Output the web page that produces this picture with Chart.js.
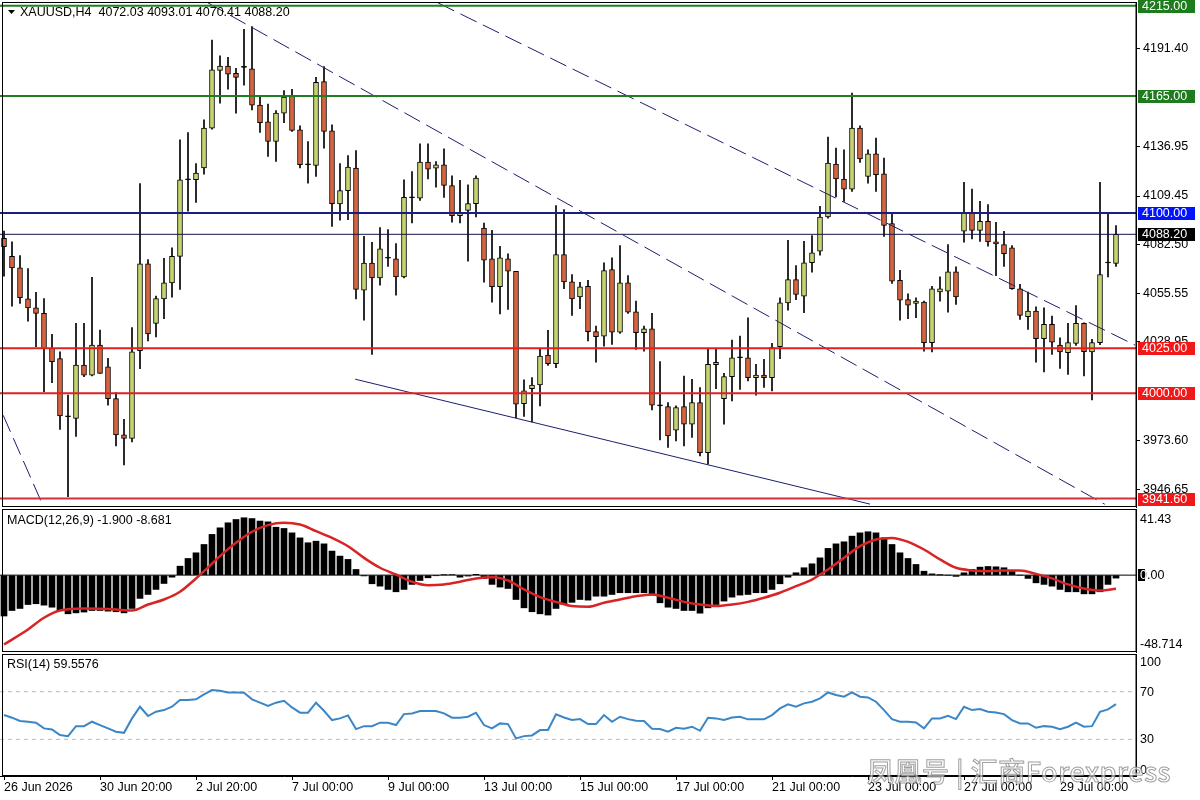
<!DOCTYPE html>
<html>
<head>
<meta charset="utf-8">
<script src="https://cdn.jsdelivr.net/npm/chart.js@4.4.0/dist/chart.umd.min.js"></script>
<style>
  html, body { margin: 0; padding: 0; background: #fff; width: 1200px; height: 800px; overflow: hidden; }
  .pane { position: absolute; left: 0; width: 1200px; }
  #mainPane { top: 0; height: 508px; }
  #macdPane { top: 508px; height: 146px; }
  #rsiPane { top: 654px; height: 146px; }
  #mark {
    position: absolute; left: 867px; top: 751px; white-space: nowrap;
    font: 500 27px "Noto Sans CJK SC", sans-serif; letter-spacing: 0.5px;
    color: rgba(255, 255, 255, 0.6); -webkit-text-stroke: 1px rgba(120, 120, 120, 0.7);
  }
</style>
</head>
<body>
<div class="pane" id="mainPane"><canvas id="mainChart"></canvas></div>
<div class="pane" id="macdPane"><canvas id="macdChart"></canvas></div>
<div class="pane" id="rsiPane"><canvas id="rsiChart"></canvas></div>
<div id="mark">凤凰号 | 汇商Forexpress</div>
<script>
// --- XAUUSD H4 candles, one entry per bar ---
const opens = [
  4086, 4076, 4069.6, 4052.4, 4047.4, 4044.3, 4025, 4019.2, 3987, 3986,
  4015.7, 4010, 4026.7, 4014.7, 3997, 3976.9, 3974.9, 4023.6, 4071.8, 4038.8,
  4052.4, 4061.3, 4076, 4118.5, 4118.5, 4125, 4147.1, 4179.2, 4181.6, 4177.5,
  4180.8, 4180, 4159.9, 4150.6, 4139.7, 4155.4, 4165, 4146.2, 4126.8, 4126.4,
  4172.9, 4145.6, 4105, 4112.4, 4124.9, 4057.2, 4072.3, 4064, 4074.9, 4074.6,
  4064.6, 4108.5, 4108.3, 4128.3, 4124.9, 4126.8, 4115.2, 4098.6, 4101.5, 4105.2,
  4091.7, 4074.6, 4059.1, 4074.6, 4067.7, 3994.3, 4002.6, 4004.6, 4021.2, 4016.4,
  4077, 4061.8, 4053.5, 4059.4, 4034.2, 4031.7, 4068.7, 4033.9, 4061.3, 4045.2,
  4033.6, 4035.8, 3993, 3992.6, 3979.5, 3992.6, 3982.8, 3994.8, 3967.1, 4015.9,
  3997, 4009.2, 4019.7, 4019.7, 4008.6, 4010.1, 4008.6, 4025.9, 4050.2, 4063.1,
  4053.9, 4072.4, 4078.8, 4097.8, 4127.2, 4118.9, 4113.3, 4147.1, 4120.3, 4132.9,
  4121.8, 4094.1, 4062.6, 4052, 4049.8, 4050.6, 4028.1, 4056.3, 4056.6, 4067.4,
  4089.9, 4100.4, 4090.4, 4095.4, 4084, 4082.5, 4080.7, 4058, 4042.5, 4045.6,
  4030.3, 4038.2, 4026.7, 4022.5, 4027.7, 4038.8, 4022.9, 4028.1, 4072.3, 4072.03
];
const highs = [
  4090, 4084, 4076.4, 4069.2, 4056, 4052.6, 4032.7, 4023, 3999, 4038.8,
  4038.8, 4064.4, 4035, 4019.4, 4000.4, 3985.6, 4036.4, 4116.3, 4074.2, 4053.9,
  4074.9, 4080.7, 4140.6, 4144.7, 4127.4, 4151.7, 4196, 4187.2, 4186.4, 4180.3,
  4202, 4203.5, 4164.6, 4160.4, 4156.9, 4168, 4168.7, 4148.4, 4139.7, 4175.3,
  4181.3, 4149, 4127.4, 4131.9, 4134.7, 4087.1, 4083.8, 4092, 4090.8, 4083,
  4118.5, 4123, 4138.4, 4138.4, 4128.6, 4135.6, 4120.7, 4118.1, 4115.7, 4120.7,
  4094.5, 4090.4, 4081.6, 4077.4, 4067.7, 4007.4, 4008.7, 4024.4, 4034.9, 4104.1,
  4101.9, 4065.9, 4061.6, 4062.7, 4037.3, 4072.4, 4075.1, 4082, 4065.3, 4051.1,
  4037.3, 4044.3, 4017.6, 3994.8, 3993, 4009.6, 4007.8, 4003.2, 4024.4, 4024.4,
  4011, 4029.5, 4031.7, 4041.9, 4016.1, 4018.8, 4027.7, 4053, 4084.9, 4070.9,
  4084.3, 4087.5, 4103.7, 4142.1, 4136, 4135.1, 4166.5, 4148.4, 4135.1, 4141.6,
  4130.5, 4100.4, 4068.2, 4055.2, 4052.9, 4051.1, 4059.4, 4064.6, 4082.5, 4070.2,
  4117, 4113.3, 4106.5, 4104.7, 4094.8, 4089.8, 4081.9, 4060.4, 4056.1, 4048,
  4047.4, 4042.8, 4030.8, 4038.8, 4048.7, 4039.1, 4029.9, 4117, 4100.4, 4093.01
];
const lows = [
  4065, 4048.3, 4049.8, 4040, 4025.8, 4000.9, 4005.9, 3980, 3942.6, 3976,
  4009.2, 4009.6, 4011, 3993.4, 3970.8, 3960.3, 3973, 4013.7, 4029, 4031.2,
  4041.4, 4053.3, 4057.6, 4101, 4105.9, 4121.6, 4146.5, 4161, 4168.7, 4155.4,
  4171, 4157.2, 4144.7, 4131.4, 4128.6, 4150.2, 4145.3, 4125, 4116.6, 4120.3,
  4136, 4092.6, 4096, 4096.3, 4052.4, 4040.6, 4021.6, 4060, 4070.4, 4054.4,
  4064, 4094.5, 4107, 4118.9, 4114.4, 4108.7, 4094.9, 4094.5, 4073.3, 4097.8,
  4061.6, 4050.6, 4044.1, 4046.5, 3986.5, 3987.1, 3984.1, 3993, 4015.5, 4014.2,
  4058, 4043.2, 4046.9, 4029, 4017.3, 4026.2, 4027.1, 4033.2, 4044.3, 4024.4,
  4023.4, 3990.8, 3974.1, 3969.9, 3973.6, 3970.8, 3975.5, 3965.3, 3960.7, 4002.6,
  3982.8, 3995.7, 4002.2, 4006.8, 3998.9, 4003.2, 4001.3, 4019.2, 4046.1, 4052,
  4044.7, 4067.2, 4076.6, 4097.2, 4108.9, 4106.5, 4112, 4128.1, 4116.6, 4112,
  4087.1, 4060.9, 4040.6, 4041.4, 4041.9, 4023.4, 4022.9, 4051.1, 4045, 4049.3,
  4083.8, 4085.7, 4084.3, 4081.6, 4065.3, 4070.4, 4057.6, 4041, 4035.4, 4017.3,
  4011.8, 4021.6, 4013.8, 4010.5, 4026.6, 4009.6, 3996.3, 4027, 4064.6, 4070.41
];
const closes = [
  4081.4, 4069.6, 4053, 4047.4, 4044.3, 4024.7, 4017.5, 3987.4, 3987, 4015.7,
  4010, 4026.7, 4011, 3997, 3976.9, 3974.9, 4023, 4071.8, 4033, 4052.6,
  4061.3, 4076, 4118.5, 4118.5, 4122.2, 4147.1, 4179.4, 4181.6, 4177, 4175.3,
  4180.8, 4159.9, 4150.2, 4139.7, 4155.4, 4164.3, 4145.8, 4126.8, 4126.8, 4172.5,
  4145.3, 4105.2, 4112.4, 4125.5, 4057.6, 4072.3, 4064, 4080.1, 4074.9, 4064.6,
  4108.7, 4108.5, 4128.3, 4124.4, 4126.8, 4115.3, 4098.6, 4100.4, 4105.2, 4119.4,
  4073.8, 4059.1, 4075.1, 4067.7, 3993.9, 4001.3, 4004.6, 4020.7, 4016.4, 4077,
  4061.8, 4052.4, 4059.1, 4034.2, 4031.4, 4068.1, 4033.9, 4061.3, 4045, 4033.6,
  4035.8, 3993.4, 3993, 3976.4, 3992.1, 3982.8, 3994.8, 3967.1, 4016.1, 4017.2,
  4009.2, 4019.7, 4019.7, 4008.6, 4010.1, 4008.6, 4025.3, 4050.2, 4063.1, 4054.8,
  4072.4, 4077.9, 4097.8, 4127.7, 4118.9, 4113.3, 4147.1, 4130, 4132.9, 4121.3,
  4093.2, 4062.2, 4051.7, 4048.9, 4051.1, 4028.1, 4058, 4058, 4067.4, 4053.5,
  4100.4, 4090.4, 4095.4, 4084, 4082.9, 4077.4, 4058, 4043.2, 4045.6, 4030.3,
  4038.2, 4028.4, 4022.9, 4028.1, 4038.8, 4023.1, 4028.1, 4065.9, 4072.3, 4088.2
];

// --- MACD(12,26,9): histogram per bar, signal read at the marked bars ---
const macdHist = [
  -26, -22.5, -21.2, -18.7, -18.2, -19.1, -20.4, -22.5, -24.6, -24,
  -23.5, -22.5, -22.5, -22.9, -23.3, -24, -21.2, -14.8, -12.3, -9.1,
  -5.3, -1.3, 5.7, 10.6, 14.2, 19.5, 25.9, 30.1, 33.3, 35.4,
  36.5, 36, 34.4, 33.9, 30.5, 29.7, 26.9, 23.7, 20.6, 21.6,
  19.9, 15.3, 12.1, 10, 3.6, -0.5, -5.5, -7, -9.1, -10.6,
  -9.1, -5.9, -3.4, -1.7, -0.4, 0.2, 0.3, -1.3, -0.6, 0.5,
  -2.1, -5.9, -7.6, -8.5, -15.5, -20.8, -23.3, -24.6, -25.4, -21.2,
  -18.7, -17.3, -15.5, -15.9, -13.4, -13.4, -12.3, -11.2, -11.2, -11.2,
  -11.2, -12.7, -17.6, -20.4, -21.2, -22.5, -22.5, -24.2, -20.8, -18.7,
  -16.5, -14, -12.7, -12.3, -11.2, -11.2, -9.1, -5.5, -1.3, 1.5,
  4.7, 7.2, 11, 17, 19.9, 21.2, 24.8, 26.9, 27.6, 26.9,
  23.7, 19.5, 14.2, 10.6, 6.8, 2.5, 0.8, 0.1, 0, -0.8,
  1.5, 3.6, 5.1, 5.5, 5.3, 4.7, 2.5, 0, -2.1, -4.9,
  -5.9, -7, -9.1, -10.6, -10.6, -11.9, -11.9, -10.6, -5.9, -1.9
];
const signalBars = [0, 3, 5, 7, 10, 14, 16, 18, 20, 22, 24, 25, 27, 29, 31, 33, 35, 37, 39, 41,
  43, 45, 47, 49, 51, 53, 55, 57, 59, 61, 63, 65, 67, 69, 71, 73, 75, 77, 79, 81,
  83, 85, 87, 89, 91, 93, 95, 97, 99, 101, 103, 105, 107, 109, 111, 113, 115, 117, 119, 121,
  123, 125, 127, 129, 131, 133, 135, 137, 139];
const signalValues = [-44.1, -34.6, -27.1, -22.5, -21.2, -21.8, -22.5, -18.7, -15.5, -10.6, -2.1, 2.5, 12.1, 20.6, 27.6, 31.8, 33.3, 32.2, 28, 23.7,
  18.4, 11, 4.7, 0.4, -4.2, -6.4, -5.9, -4.2, -2.1, -1.3, -3.4, -9.1, -14, -17, -19.7, -20.1, -17.6, -15.5, -13.4, -12.3,
  -14.4, -17, -18.7, -19.7, -18.7, -17, -14.4, -11.2, -7, -2.8, 3.6, 11, 18.4, 22.7, 23.7, 21.2, 16.3, 10, 4.7, 3,
  2.5, 3, 3, 0.8, -2.1, -5.9, -8.5, -9.8, -8.681];

// --- RSI(14) per bar ---
const rsi = [
  50.4, 48.2, 45.4, 44.8, 44, 39.2, 38.3, 33.6, 32.7, 41.1,
  41.1, 44.8, 42, 39.2, 36.4, 35.5, 47.6, 57.4, 49.6, 53.2,
  54.6, 57.4, 63, 63, 63.6, 67.8, 71.4, 70.8, 69.4, 69.4,
  69.2, 63.6, 60.8, 58, 60.8, 62.4, 56.8, 52.4, 52.4, 60.8,
  54, 46.2, 47.6, 50.1, 38.6, 41.1, 41.1, 44, 44, 42,
  51.2, 51.8, 53.8, 53.8, 53.8, 51.8, 48.2, 48.2, 49, 52.4,
  42, 39.2, 43.4, 42.8, 30.8, 32.7, 33.3, 37.8, 37.8, 51,
  48.4, 46.2, 47, 42.8, 42.8, 50.4, 44.8, 49, 47, 45.6,
  45.4, 38.9, 38.6, 36.4, 39.7, 38.9, 40.6, 37.2, 48.2, 47.6,
  46.2, 48.4, 49, 46.8, 46.8, 46.8, 50.4, 56, 59.4, 57.4,
  60.2, 61.6, 64.4, 69.4, 67.2, 65.8, 69.4, 65.8, 65.2, 61.6,
  54.6, 47, 44.8, 44.8, 44.2, 39.2, 47.6, 47.6, 49.8, 47,
  57.4, 54.6, 55.4, 53.2, 52.6, 51.2, 46.2, 43.4, 43.4, 39.7,
  41.1, 40.6, 38.6, 40.6, 44, 40.6, 41.1, 53.2, 55.2, 59.5576
];
const rsiLevels = [70, 30];

// --- axes ---
const timeTickBars = [0, 12, 24, 36, 48, 60, 72, 84, 96, 108, 120, 132];
const timeTickLabels = ['26 Jun 2026', '30 Jun 20:00', '2 Jul 20:00', '7 Jul 00:00', '9 Jul 00:00', '13 Jul 00:00',
  '15 Jul 00:00', '17 Jul 00:00', '21 Jul 00:00', '23 Jul 00:00', '27 Jul 00:00', '29 Jul 00:00'];
const priceTicks = [4191.40, 4136.95, 4109.45, 4082.50, 4055.55, 4028.95, 3973.60, 3946.65];

// --- drawn objects: horizontal levels and trendlines (bar index, price) ---
const levelValues = [4215, 4165, 4100, 4088.2, 4025, 4000, 3941.6];
const levelColors = ['#1f7f1f', '#1f7f1f', '#1c1c86', '#15154a', '#e02020', '#e02020', '#d0303a'];
const levelWidths = [2, 2, 2, 1, 2, 2, 2];
const levelTagColors = ['#1e7b1e', '#1e7b1e', '#0014ff', '#000000', '#f01818', '#f01818', '#f01818'];
const trendStart = [[25.5, 4216.6], [54.25, 4216.6], [-0.1, 3987.8], [43.9, 4007.8]];
const trendEnd = [[137.6, 3938.4], [141.4, 4026.7], [4.9, 3937.4], [108.25, 3938.5]];
const trendDashed = [true, true, true, false];

const BULL = '#c6d46e', BEAR = '#da633b';
const FONT = '12.5px "Liberation Sans", Arial, sans-serif';
const X_MIN = -0.5, X_MAX = 141.5;

Chart.defaults.font.family = '"Liberation Sans", Arial, sans-serif';
Chart.defaults.font.size = 12.5;
Chart.defaults.color = '#000';
Chart.defaults.animation = false;

const bodyColors = opens.map((o, i) => closes[i] > o ? BULL : (closes[i] < o ? BEAR : '#000'));

function lineSet(points, color, width, dash) {
  return {
    type: 'line', data: points, borderColor: color, borderWidth: width, borderDash: dash || [],
    pointRadius: 0, fill: false, tension: 0, order: -1
  };
}

function fixRightAxis(s) { s.width = 64; s.paddingTop = 0; s.paddingBottom = 0; }

function frame(ctx, a) {
  ctx.strokeStyle = '#000';
  ctx.lineWidth = 1;
  ctx.strokeRect(2.5, a.top + 0.5, a.right - 2.5, a.bottom - a.top - 1);
}

const hiddenX = { type: 'linear', min: X_MIN, max: X_MAX, offset: false, display: false };
const commonPlugins = { legend: { display: false }, tooltip: { enabled: false } };

// ---------- main price panel ----------
const mainDecor = {
  id: 'mainDecor',
  afterDraw(chart) {
    const { ctx, chartArea: a, scales: { y } } = chart;
    ctx.save();
    frame(ctx, a);
    ctx.font = FONT;
    ctx.textBaseline = 'middle';
    levelValues.forEach((v, k) => {
      const py = Math.round(y.getPixelForValue(v));
      ctx.fillStyle = levelTagColors[k];
      ctx.fillRect(a.right + 2, py - 6, 57, 13);
      ctx.fillStyle = '#fff';
      ctx.fillText(v.toFixed(2), a.right + 6, py + 0.5);
    });
    ctx.fillStyle = '#000';
    ctx.beginPath();
    ctx.moveTo(8, 10); ctx.lineTo(15, 10); ctx.lineTo(11.5, 14); ctx.closePath();
    ctx.fill();
    ctx.fillText('XAUUSD,H4  ' + [opens[139], highs[139], lows[139], closes[139]].map(v => v.toFixed(2)).join(' '), 20, 13);
    ctx.restore();
  }
};

const mainSets = [
  {
    label: 'body', data: opens.map((o, i) => ({ x: i, y: [o, closes[i]] })),
    backgroundColor: bodyColors, borderColor: '#000', borderWidth: 1, borderSkipped: false,
    barThickness: 5, minBarLength: 1, grouped: false
  },
  {
    label: 'wick', data: highs.map((h, i) => ({ x: i, y: [lows[i], h] })),
    backgroundColor: '#000', barThickness: 1, grouped: false
  }
];
levelValues.forEach((v, k) => {
  mainSets.push(lineSet([{ x: X_MIN, y: v }, { x: X_MAX, y: v }], levelColors[k], levelWidths[k]));
});
trendStart.forEach((p, k) => {
  const q = trendEnd[k];
  mainSets.push(lineSet([{ x: p[0], y: p[1] }, { x: q[0], y: q[1] }], '#1a1f6e', 1, trendDashed[k] ? [18, 7] : []));
});

new Chart(document.getElementById('mainChart'), {
  type: 'bar',
  data: { datasets: mainSets },
  options: {
    responsive: true, maintainAspectRatio: false, events: [],
    layout: { padding: { top: 2, bottom: 1, left: 0, right: 0 } },
    plugins: commonPlugins,
    scales: {
      x: hiddenX,
      y: {
        position: 'right', min: 3936.9, max: 4217.1,
        afterBuildTicks: s => { s.ticks = priceTicks.map(v => ({ value: v })); },
        afterFit: fixRightAxis,
        ticks: { callback: v => Number(v).toFixed(2), padding: 3 },
        grid: { drawOnChartArea: false, drawTicks: true, tickLength: 4, color: '#000' },
        border: { display: true, color: '#000' }
      }
    }
  },
  plugins: [mainDecor]
});

// ---------- MACD panel ----------
const macdDecor = {
  id: 'macdDecor',
  afterDraw(chart) {
    const { ctx, chartArea: a, scales: { y } } = chart;
    ctx.save();
    frame(ctx, a);
    ctx.font = FONT;
    ctx.textBaseline = 'middle';
    ctx.fillStyle = '#000';
    ctx.fillText('MACD(12,26,9) ' + macdHist[139].toFixed(3) + ' ' + signalValues[signalValues.length - 1].toFixed(3), 7, 13);
    const x0 = a.right + 4;
    const zy = Math.round(y.getPixelForValue(0));
    ctx.fillText('41.43', x0, a.top + 11);
    ctx.fillText('-48.714', x0, a.bottom - 7);
    ctx.fillRect(a.right + 2, zy - 6, 7, 12);
    ctx.fillText('0.00', x0, zy + 0.5);
    ctx.fillStyle = '#fff';
    ctx.fillText('0', x0, zy + 0.5);
    ctx.restore();
  }
};

new Chart(document.getElementById('macdChart'), {
  type: 'bar',
  data: {
    datasets: [
      {
        label: 'MACD', data: macdHist.map((v, i) => ({ x: i, y: v })),
        backgroundColor: '#000', barThickness: 6, grouped: false
      },
      lineSet([{ x: X_MIN, y: 0 }, { x: X_MAX, y: 0 }], '#000', 1),
      Object.assign(lineSet(signalBars.map((b, k) => ({ x: b, y: signalValues[k] })), '#d82424', 2.5),
        { cubicInterpolationMode: 'monotone', order: -2 })
    ]
  },
  options: {
    responsive: true, maintainAspectRatio: false, events: [],
    layout: { padding: { top: 1, bottom: 2, left: 0, right: 0 } },
    plugins: commonPlugins,
    scales: {
      x: hiddenX,
      y: {
        position: 'right', min: -48.9, max: 42.07,
        afterFit: fixRightAxis,
        ticks: { display: false },
        grid: { drawOnChartArea: false, drawTicks: false },
        border: { display: true, color: '#000' }
      }
    }
  },
  plugins: [macdDecor]
});

// ---------- RSI panel ----------
const rsiDecor = {
  id: 'rsiDecor',
  afterDraw(chart) {
    const { ctx, chartArea: a, scales: { y } } = chart;
    ctx.save();
    frame(ctx, a);
    ctx.font = FONT;
    ctx.textBaseline = 'middle';
    ctx.fillStyle = '#000';
    ctx.fillText('RSI(14) ' + rsi[139].toFixed(4), 7, 11);
    const x0 = a.right + 4;
    ctx.fillText('100', x0, a.top + 9);
    rsiLevels.forEach(v => ctx.fillText(String(v), x0, Math.round(y.getPixelForValue(v)) + 0.5));
    ctx.fillText('0', x0, a.bottom - 5);
    ctx.restore();
  }
};

new Chart(document.getElementById('rsiChart'), {
  type: 'line',
  data: {
    datasets: [
      lineSet([{ x: X_MIN, y: rsiLevels[0] }, { x: X_MAX, y: rsiLevels[0] }], '#b8b8b8', 1, [4, 4]),
      lineSet([{ x: X_MIN, y: rsiLevels[1] }, { x: X_MAX, y: rsiLevels[1] }], '#b8b8b8', 1, [4, 4]),
      Object.assign(lineSet(rsi.map((v, i) => ({ x: i, y: v })), '#3a86c6', 2), { order: -2 })
    ]
  },
  options: {
    responsive: true, maintainAspectRatio: false, events: [],
    layout: { padding: 0 },
    plugins: commonPlugins,
    scales: {
      x: {
        type: 'linear', min: X_MIN, max: X_MAX, offset: false, position: 'bottom',
        afterBuildTicks: s => { s.ticks = timeTickBars.map(v => ({ value: v })); },
        afterFit: s => { s.height = 24; s.paddingLeft = 0; s.paddingRight = 0; },
        ticks: {
          autoSkip: false, maxRotation: 0, align: 'start', padding: 0,
          callback: v => timeTickLabels[timeTickBars.indexOf(v)]
        },
        grid: { drawOnChartArea: false, drawTicks: true, tickLength: 4, color: '#000' },
        border: { display: true, color: '#000' }
      },
      y: {
        position: 'right', min: -0.8, max: 101.7,
        afterFit: fixRightAxis,
        ticks: { display: false },
        grid: { drawOnChartArea: false, drawTicks: false },
        border: { display: true, color: '#000' }
      }
    }
  },
  plugins: [rsiDecor]
});
</script>
</body>
</html>
